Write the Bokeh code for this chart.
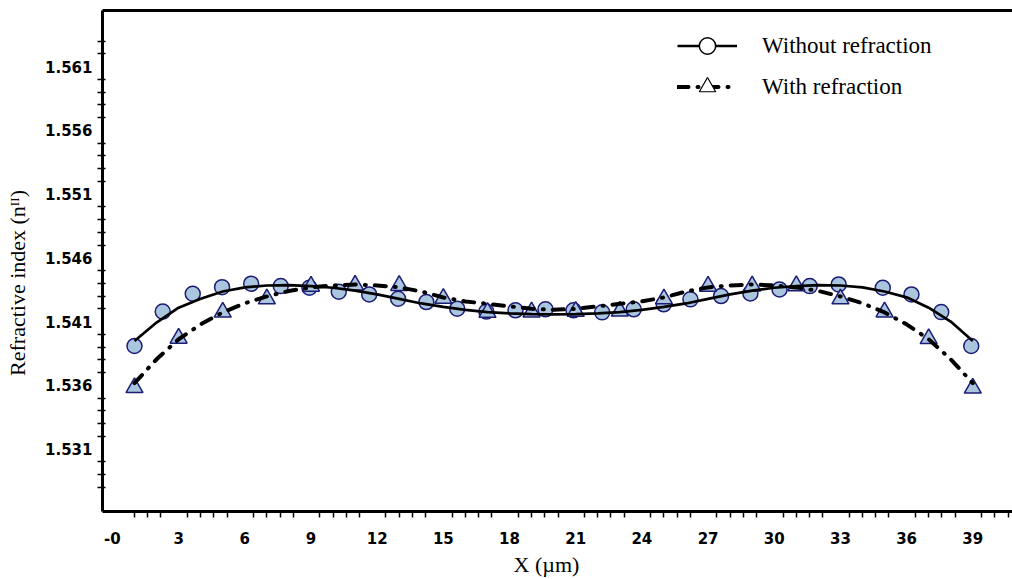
from bokeh.plotting import figure
from bokeh.models import FixedTicker, LinearAxis, Range1d, Legend, LegendItem
from bokeh.embed import file_html
from bokeh.resources import INLINE

# ---- data ----
circle_x = [1.0, 2.28, 3.64, 4.97, 6.29, 7.63, 8.93, 10.26, 11.64, 12.95, 14.23, 15.63,
            16.95, 18.27, 19.63, 20.9, 22.2, 23.63, 24.99, 26.2, 27.59, 28.92, 30.24,
            31.61, 32.92, 34.92, 36.22, 37.57, 38.93]
circle_y = [1.53908, 1.54178, 1.54318, 1.54370, 1.54397, 1.54378, 1.54365, 1.54334,
            1.54313, 1.54279, 1.54253, 1.54201, 1.54178, 1.54188, 1.54196, 1.54188,
            1.54172, 1.54196, 1.54235, 1.54274, 1.54300, 1.54321, 1.54352, 1.54378,
            1.54391, 1.54365, 1.54313, 1.54174, 1.53908]

tri_x = [1, 3, 5, 7, 9, 11, 13, 15, 17, 19, 21, 23, 25, 27, 29, 31, 33, 35, 37, 39]
tri_y = [1.53581, 1.53969, 1.54174, 1.54278, 1.54377, 1.54386, 1.54383, 1.54282,
         1.54172, 1.54175, 1.54180, 1.54182, 1.54278, 1.54377, 1.54379, 1.54381,
         1.54278, 1.54175, 1.53966, 1.53578]

fit_x = [1, 2, 3, 4, 5, 6, 7, 8, 9, 10, 11, 12, 13, 14, 15, 16, 17, 18, 19, 20,
         21, 22, 23, 24, 25, 26, 27, 28, 29, 30, 31, 32, 33, 34, 35, 36, 37, 38, 39]
fit_without_y = [1.53948, 1.54092, 1.54209, 1.54279, 1.54336, 1.54368, 1.54383, 1.54386,
                 1.54378, 1.54365, 1.54342, 1.54313, 1.54278, 1.54242, 1.54215, 1.54192,
                 1.54174, 1.54164, 1.54159, 1.54156, 1.54159, 1.54164, 1.54174, 1.54192,
                 1.54215, 1.54242, 1.54278, 1.54313, 1.54342, 1.54365, 1.54378, 1.54386,
                 1.54383, 1.54368, 1.54336, 1.54290, 1.54209, 1.54100, 1.53948]
fit_with_y = [1.53617, 1.53804, 1.53961, 1.54078, 1.54172, 1.54243, 1.54297, 1.54340,
              1.54368, 1.54383, 1.54391, 1.54383, 1.54368, 1.54336, 1.54289, 1.54258,
              1.54239, 1.54219, 1.54200, 1.54192, 1.54200, 1.54219, 1.54239, 1.54258,
              1.54289, 1.54336, 1.54368, 1.54383, 1.54391, 1.54383, 1.54368, 1.54340,
              1.54297, 1.54243, 1.54172, 1.54078, 1.53961, 1.53804, 1.53617]

x_tick_values = [0, 3, 6, 9, 12, 15, 18, 21, 24, 27, 30, 33, 36, 39]
x_tick_labels = ["-0", "3", "6", "9", "12", "15", "18", "21", "24", "27", "30", "33", "36", "39"]
y_tick_values = [1.531, 1.536, 1.541, 1.546, 1.551, 1.556, 1.561]
y_tick_labels = ["1.531", "1.536", "1.541", "1.546", "1.551", "1.556", "1.561"]

label_without = "Without refraction"
label_with = "With refraction"
x_title = "X (\u00b5m)"
y_title = "Refractive index (n\u1d35\u1d35)"

# ---- styling helpers ----
x_minor = [round(-0.2 + 0.6 * k, 2) for k in range(2, 69) if k % 5 != 0]
y_minor = [round(1.528 + 0.001 * k, 3) for k in range(0, 36)
           if round(1.528 + 0.001 * k, 3) not in y_tick_values]
NB = "\u00a0"

FILL = "#aac6de"
EDGE = "#1c1c74"

p = figure(width=1012, height=579, output_backend="svg", toolbar_location=None,
           x_range=Range1d(-0.45, 40.8), y_range=Range1d(1.5261, 1.5654),
           min_border_left=102, min_border_right=0, min_border_top=10,
           min_border_bottom=67)
p.outline_line_color = None
p.xgrid.visible = False
p.ygrid.visible = False
p.background_fill_color = "white"
p.border_fill_color = "white"

# legend proxies (zero size in the plot, hidden under the real markers)
leg_c = p.scatter(circle_x[:1], circle_y[:1], marker="circle", size=0,
                  fill_color="white", line_color="black", line_width=1.5)
leg_t = p.scatter(tri_x[:1], tri_y[:1], marker="triangle", size=0,
                  fill_color="white", line_color="black", line_width=1.2)

# markers, then lines on top
p.scatter(circle_x, circle_y, marker="circle", size=15, fill_color=FILL,
          line_color=EDGE, line_width=1.5)
p.scatter(tri_x, tri_y, marker="triangle", size=17, fill_color=FILL,
          line_color=EDGE, line_width=1.5)
l1 = p.line(fit_x, fit_without_y, line_color="black", line_width=2.7)
l2 = p.line(fit_x, fit_with_y, line_color="black", line_width=4,
            line_dash="11 9 1 9", line_cap="round")

legend = Legend(items=[LegendItem(label=label_without, renderers=[l1, leg_c]),
                       LegendItem(label=label_with, renderers=[l2, leg_t])],
                location=(575, 404), glyph_width=60, glyph_height=41,
                label_standoff=25, spacing=0, padding=0, margin=0,
                border_line_color=None, background_fill_alpha=0,
                label_text_font="Liberation Serif", label_text_font_size="23px",
                label_text_color="black")
p.add_layout(legend)

# x axis
xa = p.xaxis[0]
xa.ticker = FixedTicker(ticks=x_tick_values, minor_ticks=x_minor)
xa.major_label_overrides = {v: s for v, s in zip(x_tick_values, x_tick_labels)}
xa.axis_line_width = 3
xa.axis_line_color = "black"
xa.major_tick_out = 0
xa.major_tick_in = 0
xa.minor_tick_out = 6
xa.minor_tick_in = 0
xa.minor_tick_line_color = "black"
xa.minor_tick_line_width = 1.5
xa.major_label_standoff = 14
xa.major_label_text_font = "DejaVu Sans"
xa.major_label_text_font_style = "bold"
xa.major_label_text_font_size = "15px"
xa.major_label_text_color = "black"
xa.axis_label = x_title + NB * 4
xa.axis_label_text_font = "Liberation Serif"
xa.axis_label_text_font_style = "normal"
xa.axis_label_text_font_size = "22px"
xa.axis_label_text_color = "black"
xa.axis_label_standoff = 5

# y axis
ya = p.yaxis[0]
ya.ticker = FixedTicker(ticks=y_tick_values, minor_ticks=y_minor)
ya.major_label_overrides = {v: s for v, s in zip(y_tick_values, y_tick_labels)}
ya.axis_line_width = 3
ya.axis_line_color = "black"
ya.major_tick_out = 0
ya.major_tick_in = 0
ya.minor_tick_out = 5
ya.minor_tick_in = 3
ya.minor_tick_line_color = "black"
ya.minor_tick_line_width = 1.5
ya.major_label_standoff = 5
ya.major_label_text_font = "DejaVu Sans"
ya.major_label_text_font_style = "bold"
ya.major_label_text_font_size = "15px"
ya.major_label_text_color = "black"
ya.axis_label = y_title + NB * 8
ya.axis_label_text_font = "Liberation Serif"
ya.axis_label_text_font_style = "normal"
ya.axis_label_text_font_size = "22px"
ya.axis_label_text_color = "black"
ya.axis_label_standoff = 12

# top frame line
top = LinearAxis(ticker=FixedTicker(ticks=[]), axis_line_width=3, axis_line_color="black",
                 major_tick_out=0, major_tick_in=0, minor_tick_out=0, minor_tick_in=0,
                 major_label_text_font_size="0px")
p.add_layout(top, "above")

open("out.html", "w").write(file_html(p, INLINE))
